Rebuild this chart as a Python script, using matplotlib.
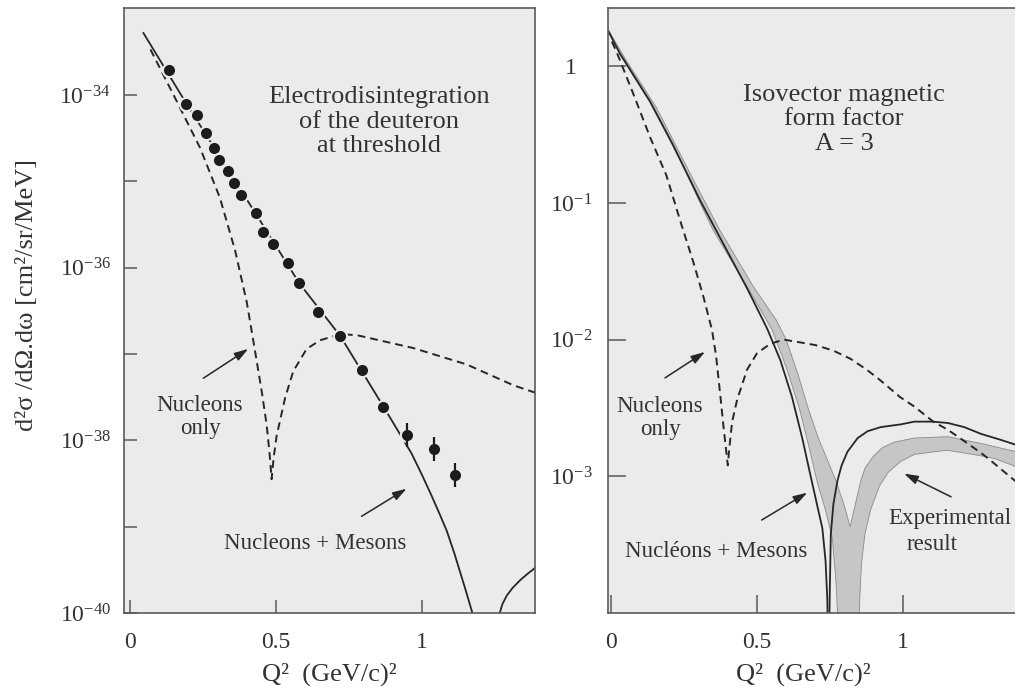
import matplotlib
matplotlib.use("Agg")
import matplotlib.pyplot as plt
import numpy as np
from matplotlib.ticker import NullLocator

plt.rcParams['font.family'] = ['Liberation Serif', 'DejaVu Serif']
plt.rcParams['mathtext.fontset'] = 'custom'
plt.rcParams['mathtext.rm'] = 'Liberation Serif'
plt.rcParams['mathtext.it'] = 'Liberation Serif:italic'

# ---- left panel: deuteron electrodisintegration (log10 of cross section) ----
q_dots = [0.134, 0.192, 0.228, 0.260, 0.288, 0.306, 0.337, 0.356, 0.379, 0.430, 0.457,
          0.491, 0.540, 0.579, 0.645, 0.719, 0.793, 0.865, 0.947, 1.041, 1.113]
lg_dots = [-33.71, -34.10, -34.23, -34.44, -34.61, -34.75, -34.88, -35.02, -35.155, -35.37, -35.59,
           -35.73, -35.95, -36.18, -36.51, -36.79, -37.19, -37.61, -37.94, -38.10, -38.40]
lg_err = [0, 0, 0, 0, 0, 0, 0, 0, 0, 0, 0, 0, 0, 0, 0, 0, 0, 0, 0.14, 0.14, 0.14]

q_nm_l = [0.046, 0.19, 0.43, 0.58, 0.72, 0.87, 0.964, 1.0, 1.03, 1.06, 1.085, 1.11, 1.13, 1.15, 1.17, 1.185]
lg_nm_l = [-33.28, -34.08, -35.37, -36.18, -36.79, -37.62, -38.15, -38.40, -38.62, -38.85, -39.05,
           -39.30, -39.52, -39.74, -39.97, -40.15]
q_nm_l2 = [1.262, 1.275, 1.29, 1.31, 1.336, 1.36, 1.39]
lg_nm_l2 = [-40.05, -39.90, -39.80, -39.71, -39.62, -39.55, -39.47]

q_nuc_l = [0.07, 0.16, 0.24, 0.308, 0.36, 0.40, 0.43, 0.452, 0.468, 0.478, 0.485, 0.492, 0.502,
           0.531, 0.559, 0.605, 0.651, 0.719, 0.776, 0.97, 1.153, 1.312, 1.39]
lg_nuc_l = [-33.47, -34.07, -34.61, -35.19, -35.80, -36.40, -37.00, -37.45, -37.82, -38.15, -38.45,
            -38.20, -37.95, -37.51, -37.20, -36.94, -36.84, -36.77, -36.78, -36.93, -37.12, -37.36, -37.45]

# ---- right panel: isovector magnetic form factor A=3 ----
q_nm_r1 = [-0.01, 0.031, 0.134, 0.213, 0.305, 0.35, 0.465, 0.535, 0.58, 0.62, 0.655, 0.684,
           0.705, 0.724, 0.735, 0.741, 0.744]
lg_nm_r1 = [0.26, 0.09, -0.26, -0.58, -0.98, -1.16, -1.62, -1.92, -2.15, -2.42, -2.72, -3.0,
            -3.2, -3.38, -3.62, -3.9, -4.3]
q_nm_r2 = [0.747, 0.749, 0.753, 0.762, 0.776, 0.79, 0.81, 0.845, 0.879, 0.924, 0.993, 1.039,
           1.10, 1.154, 1.21, 1.268, 1.33, 1.388, 1.45]
lg_nm_r2 = [-4.3, -3.9, -3.42, -3.2, -3.03, -2.92, -2.82, -2.72, -2.67, -2.64, -2.62, -2.60,
            -2.60, -2.61, -2.64, -2.69, -2.73, -2.77, -2.82]

q_nuc_r = [0.003, 0.02, 0.076, 0.134, 0.19, 0.237, 0.283, 0.317, 0.346, 0.36, 0.374, 0.386, 0.397,
           0.400, 0.405, 0.415, 0.432, 0.466, 0.50, 0.546, 0.592, 0.647, 0.70, 0.761, 0.82, 0.876,
           0.924, 0.99, 1.039, 1.104, 1.154, 1.195, 1.268, 1.298, 1.388, 1.45]
lg_nuc_r = [0.18, 0.10, -0.20, -0.52, -0.80, -1.13, -1.44, -1.69, -1.93, -2.12, -2.40, -2.65, -2.86,
            -2.92, -2.80, -2.60, -2.44, -2.22, -2.10, -2.03, -2.00, -2.02, -2.04, -2.08, -2.14, -2.22,
            -2.30, -2.42, -2.49, -2.60, -2.66, -2.72, -2.83, -2.88, -3.04, -3.14]

# experimental band outline: upper edge of first lobe, upper edge of second lobe,
# lower edge of second lobe (back), lower edge of first lobe (back)
band_q = [-0.01, 0.05, 0.155, 0.282, 0.373, 0.487, 0.567, 0.60, 0.64, 0.675, 0.71, 0.745, 0.77, 0.80, 0.819,
          0.856, 0.87, 0.90, 0.93, 0.97, 1.039, 1.154, 1.268, 1.388, 1.46,
          1.46, 1.388, 1.314, 1.268, 1.154, 1.108, 1.039, 0.993, 0.95, 0.92, 0.89, 0.87, 0.858, 0.852, 0.850,
          0.78, 0.777, 0.77, 0.758, 0.735, 0.705, 0.68, 0.645, 0.60, 0.552, 0.52, 0.465, 0.35, 0.305,
          0.213, 0.134, 0.031, -0.01]
band_lg = [0.27, 0.05, -0.30, -0.83, -1.20, -1.61, -1.86, -2.0, -2.25, -2.5, -2.72, -2.90, -3.03, -3.22, -3.37,
           -3.03, -2.94, -2.85, -2.79, -2.75, -2.72, -2.71, -2.76, -2.82, -2.87,
           -2.98, -2.93, -2.87, -2.85, -2.81, -2.82, -2.84, -2.89, -2.97, -3.07, -3.24, -3.42, -3.64, -3.9, -4.3,
           -4.3, -4.05, -3.75, -3.45, -3.25, -3.03, -2.80, -2.50, -2.20, -1.93, -1.81, -1.61, -1.20, -1.00,
           -0.57, -0.25, 0.10, 0.26]

BG = '#ebebeb'
LINE = '#262626'
TXT = '#333333'
FRAME = '#5a5a5a'

fig = plt.figure(figsize=(10.15, 6.96), dpi=100)
axL = fig.add_axes([124 / 1015, 83 / 696, 411 / 1015, 605 / 696])
axR = fig.add_axes([608 / 1015, 83 / 696, 426 / 1015, 605 / 696])
axL.set_yscale('log')
axR.set_yscale('log')

dash = (0, (4, 2.6))

def p(lg):
    return 10 ** np.asarray(lg, dtype=float)

# left panel
axL.plot(q_nm_l, p(lg_nm_l), color=LINE, lw=1.3, zorder=2)
axL.plot(q_nm_l2, p(lg_nm_l2), color=LINE, lw=1.3, zorder=2)
axL.plot(q_nuc_l, p(lg_nuc_l), color=LINE, lw=1.4, ls=dash, zorder=2)
axL.plot(q_dots, p(lg_dots), 'o', color='#1c1c1c', ms=9.5, mec=BG, mew=1.5, zorder=3)
e = np.array(lg_err)
y = p(lg_dots)
sel = e > 0
axL.errorbar(np.array(q_dots)[sel], y[sel],
             yerr=[y[sel] - p(np.array(lg_dots)[sel] - e[sel]), p(np.array(lg_dots)[sel] + e[sel]) - y[sel]],
             fmt='none', ecolor='#1c1c1c', elinewidth=1.6, capsize=0, zorder=4)

axL.set_xlim(-0.0205, 1.387)
axL.set_ylim(1e-40, 10 ** -32.99)
axL.set_yticks([1e-34, 1e-35, 1e-36, 1e-37, 1e-38, 1e-39, 1e-40],
               [r'$\mathregular{10^{-34}}$', '', r'$\mathregular{10^{-36}}$', '',
                r'$\mathregular{10^{-38}}$', '', r'$\mathregular{10^{-40}}$'])
axL.set_xticks([0, 0.5, 1], ['0', '0.5', '1'])
axL.set_ylabel('d²σ /dΩ.dω [cm²/sr/MeV]', fontsize=19, color=TXT)
axL.yaxis.set_label_coords(-0.21, (613 - 295) / 605)

axL.text(0.853, p(-34.31), 'Electrodisintegration\nof the deuteron\nat threshold',
         ha='center', va='center', multialignment='center', fontsize=19, color=TXT, linespacing=1.15)
axL.text(0.24, p(-37.73), 'Nucleons\nonly', ha='center', va='center', multialignment='center',
         fontsize=16.5, color=TXT, linespacing=1.1)
axL.text(0.634, p(-39.2), 'Nucleons + Mesons', ha='center', va='center', fontsize=16.5, color=TXT)

arrow = dict(arrowstyle='-|>,head_length=0.7,head_width=0.22', color=LINE, lw=1.1,
             mutation_scale=12, shrinkA=0, shrinkB=0)
axL.annotate('', xy=(0.405, p(-36.94)), xytext=(0.251, p(-37.28)), arrowprops=arrow)
axL.annotate('', xy=(0.947, p(-38.56)), xytext=(0.793, p(-38.88)), arrowprops=arrow)

# right panel
axR.fill(band_q, p(band_lg), facecolor='#c6c6c6', edgecolor='#8a8a8a', lw=0.6, zorder=1)
axR.plot(q_nm_r1, p(lg_nm_r1), color=LINE, lw=1.3, zorder=2)
axR.plot(q_nm_r2, p(lg_nm_r2), color=LINE, lw=1.3, zorder=2)
axR.plot(q_nuc_r, p(lg_nuc_r), color=LINE, lw=1.4, ls=dash, zorder=2)

axR.set_xlim(-0.0103, 1.449)
axR.set_ylim(1e-4, 10 ** 0.426)
axR.set_yticks([1, 1e-1, 1e-2, 1e-3],
               ['1', r'$\mathregular{10^{-1}}$', r'$\mathregular{10^{-2}}$', r'$\mathregular{10^{-3}}$'])
axR.set_xticks([0, 0.5, 1], ['0', '0.5', '1'])

axR.text(0.798, p(-0.388), 'Isovector magnetic\nform factor\nA = 3', ha='center', va='center',
         multialignment='center', fontsize=19, color=TXT, linespacing=1.15)
axR.text(0.168, p(-2.575), 'Nucleons\nonly', ha='center', va='center', multialignment='center',
         fontsize=16.5, color=TXT, linespacing=1.1)
axR.text(0.362, p(-3.55), 'Nucléons + Mesons', ha='center', va='center', fontsize=16.5, color=TXT)
axR.text(1.161, p(-3.31), 'Experimental', ha='center', va='center', fontsize=16.5, color=TXT)
axR.text(1.099, p(-3.50), 'result', ha='center', va='center', fontsize=16.5, color=TXT)
axR.annotate('', xy=(0.322, p(-2.09)), xytext=(0.185, p(-2.28)), arrowprops=arrow)
axR.annotate('', xy=(0.672, p(-3.12)), xytext=(0.516, p(-3.32)), arrowprops=arrow)
axR.annotate('', xy=(1.004, p(-2.98)), xytext=(1.165, p(-3.15)), arrowprops=arrow)

for ax, tl, ypad in ((axL, 9.5, 28), (axR, 13, 26.6)):
    ax.set_facecolor(BG)
    ax.yaxis.set_minor_locator(NullLocator())
    for s in ax.spines.values():
        s.set_color(FRAME)
        s.set_linewidth(1.2)
    ax.tick_params(axis='both', direction='in', length=tl, width=1.1, color=FRAME,
                   labelsize=17, labelcolor=TXT)
    ax.tick_params(axis='y', pad=ypad)
    ax.tick_params(axis='x', pad=14)
    for lab in ax.get_yticklabels():
        lab.set_horizontalalignment('center')
    ax.set_xlabel('Q²  (GeV/c)²', fontsize=19, color=TXT)

axL.xaxis.set_label_coords(0.5, -0.082)
axR.xaxis.set_label_coords((803 - 608) / 426, -0.082)

fig.savefig('out.png', dpi=100, facecolor='white')
